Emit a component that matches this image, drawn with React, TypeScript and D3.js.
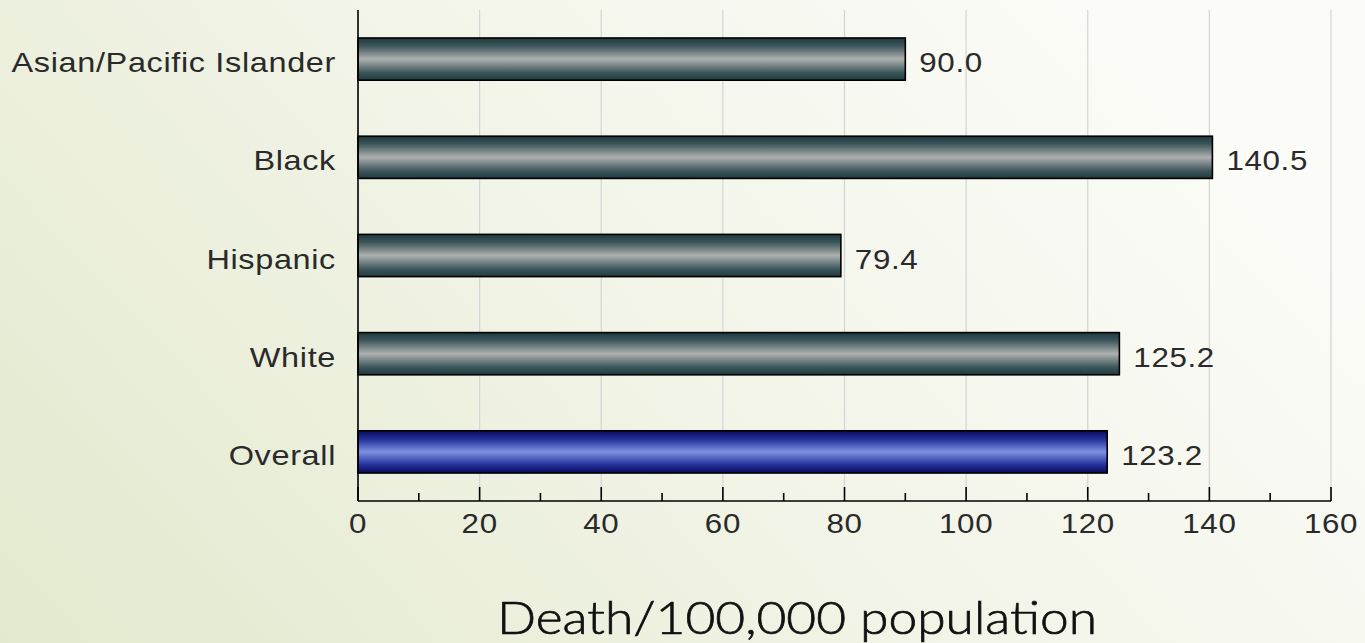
import React from "react";
import * as d3 from "d3";

const categories = ["Asian/Pacific Islander", "Black", "Hispanic", "White", "Overall"];
const values = [90.0, 140.5, 79.4, 125.2, 123.2];
const highlight = [false, false, false, false, true];
const majorTicks = [0, 20, 40, 60, 80, 100, 120, 140, 160];
const minorTicks = [10, 30, 50, 70, 90, 110, 130, 150];
const axisTitle = "Death/100,000 population";

const W = 1365;
const H = 643;
const SX = 1.16;
const LS = 0.55;

export default function App() {
  const x = d3.scaleLinear().domain([0, 160]).range([358, 1331]);
  const y = d3.scaleBand<string>().domain(categories).range([10, 501]).paddingInner(0.57).paddingOuter(0.285);
  const y0 = 501;
  const yTop = 10;
  const font = "'Liberation Sans', Arial, sans-serif";
  const txt = "#2a2a2a";

  return (
    <svg width={W} height={H} style={{ position: "absolute", left: 0, top: 0, display: "block" }}>
      <defs>
        <linearGradient id="bg" gradientUnits="userSpaceOnUse" x1={0} y1={H} x2={900} y2={-200}>
          <stop offset="0" stopColor="#e2e9cd" />
          <stop offset="0.55" stopColor="#f2f4e7" />
          <stop offset="1" stopColor="#fbfbf7" />
        </linearGradient>
        <linearGradient id="gray" x1="0" y1="0" x2="0" y2="1">
          <stop offset="0" stopColor="#1f3a3f" />
          <stop offset="0.18" stopColor="#3a5459" />
          <stop offset="0.5" stopColor="#aeb0af" />
          <stop offset="0.82" stopColor="#3c565b" />
          <stop offset="1" stopColor="#1f3a3f" />
        </linearGradient>
        <linearGradient id="blue" x1="0" y1="0" x2="0" y2="1">
          <stop offset="0" stopColor="#0a0a5a" />
          <stop offset="0.2" stopColor="#22309a" />
          <stop offset="0.5" stopColor="#7c92e2" />
          <stop offset="0.8" stopColor="#24329c" />
          <stop offset="1" stopColor="#0a0a5a" />
        </linearGradient>
      </defs>
      <rect x={0} y={0} width={W} height={H} fill="url(#bg)" />

      {majorTicks.slice(1).map((t) => (
        <line key={"g" + t} x1={x(t)} x2={x(t)} y1={yTop} y2={y0} stroke="#d4d4d4" strokeWidth={1.2} />
      ))}

      {categories.map((c, i) => {
        const by = y(c) as number;
        const bw = y.bandwidth();
        return (
          <g key={c}>
            <rect
              x={x(0)}
              y={by}
              width={x(values[i]) - x(0)}
              height={bw}
              fill={highlight[i] ? "url(#blue)" : "url(#gray)"}
              stroke="#000"
              strokeWidth={1.6}
            />
            <text
              transform={`translate(${x(values[i]) + 14},${by + bw / 2 + 13}) scale(${SX},1)`}
              fontFamily={font}
              fontSize={27}
              letterSpacing={LS}
              fill={txt}
            >
              {values[i].toFixed(1)}
            </text>
            <text
              transform={`translate(336,${by + bw / 2 + 13}) scale(${SX},1)`}
              textAnchor="end"
              fontFamily={font}
              fontSize={28}
              letterSpacing={LS}
              fill={txt}
            >
              {c}
            </text>
          </g>
        );
      })}

      <line x1={x(0)} x2={x(0)} y1={yTop} y2={y0} stroke="#000" strokeWidth={1.6} />
      <line x1={x(0)} x2={x(160)} y1={y0} y2={y0} stroke="#000" strokeWidth={1.6} />
      {majorTicks.map((t) => (
        <g key={"t" + t}>
          <line x1={x(t)} x2={x(t)} y1={y0} y2={y0 - 14} stroke="#000" strokeWidth={1.6} />
          <text
            transform={`translate(${x(t)},533) scale(${SX},1)`}
            textAnchor="middle"
            fontFamily={font}
            fontSize={27}
            letterSpacing={LS}
            fill={txt}
          >
            {t}
          </text>
        </g>
      ))}
      {minorTicks.map((t) => (
        <line key={"m" + t} x1={x(t)} x2={x(t)} y1={y0} y2={y0 - 8} stroke="#000" strokeWidth={1.6} />
      ))}

      <text
        x={797}
        y={634}
        textAnchor="middle"
        fontFamily="Lato, 'Open Sans', sans-serif"
        fontWeight={300}
        fontSize={45}
        textLength={600}
        lengthAdjust="spacingAndGlyphs"
        fill="#111"
        stroke="#111"
        strokeWidth={0.7}
      >
        {axisTitle}
      </text>
    </svg>
  );
}
